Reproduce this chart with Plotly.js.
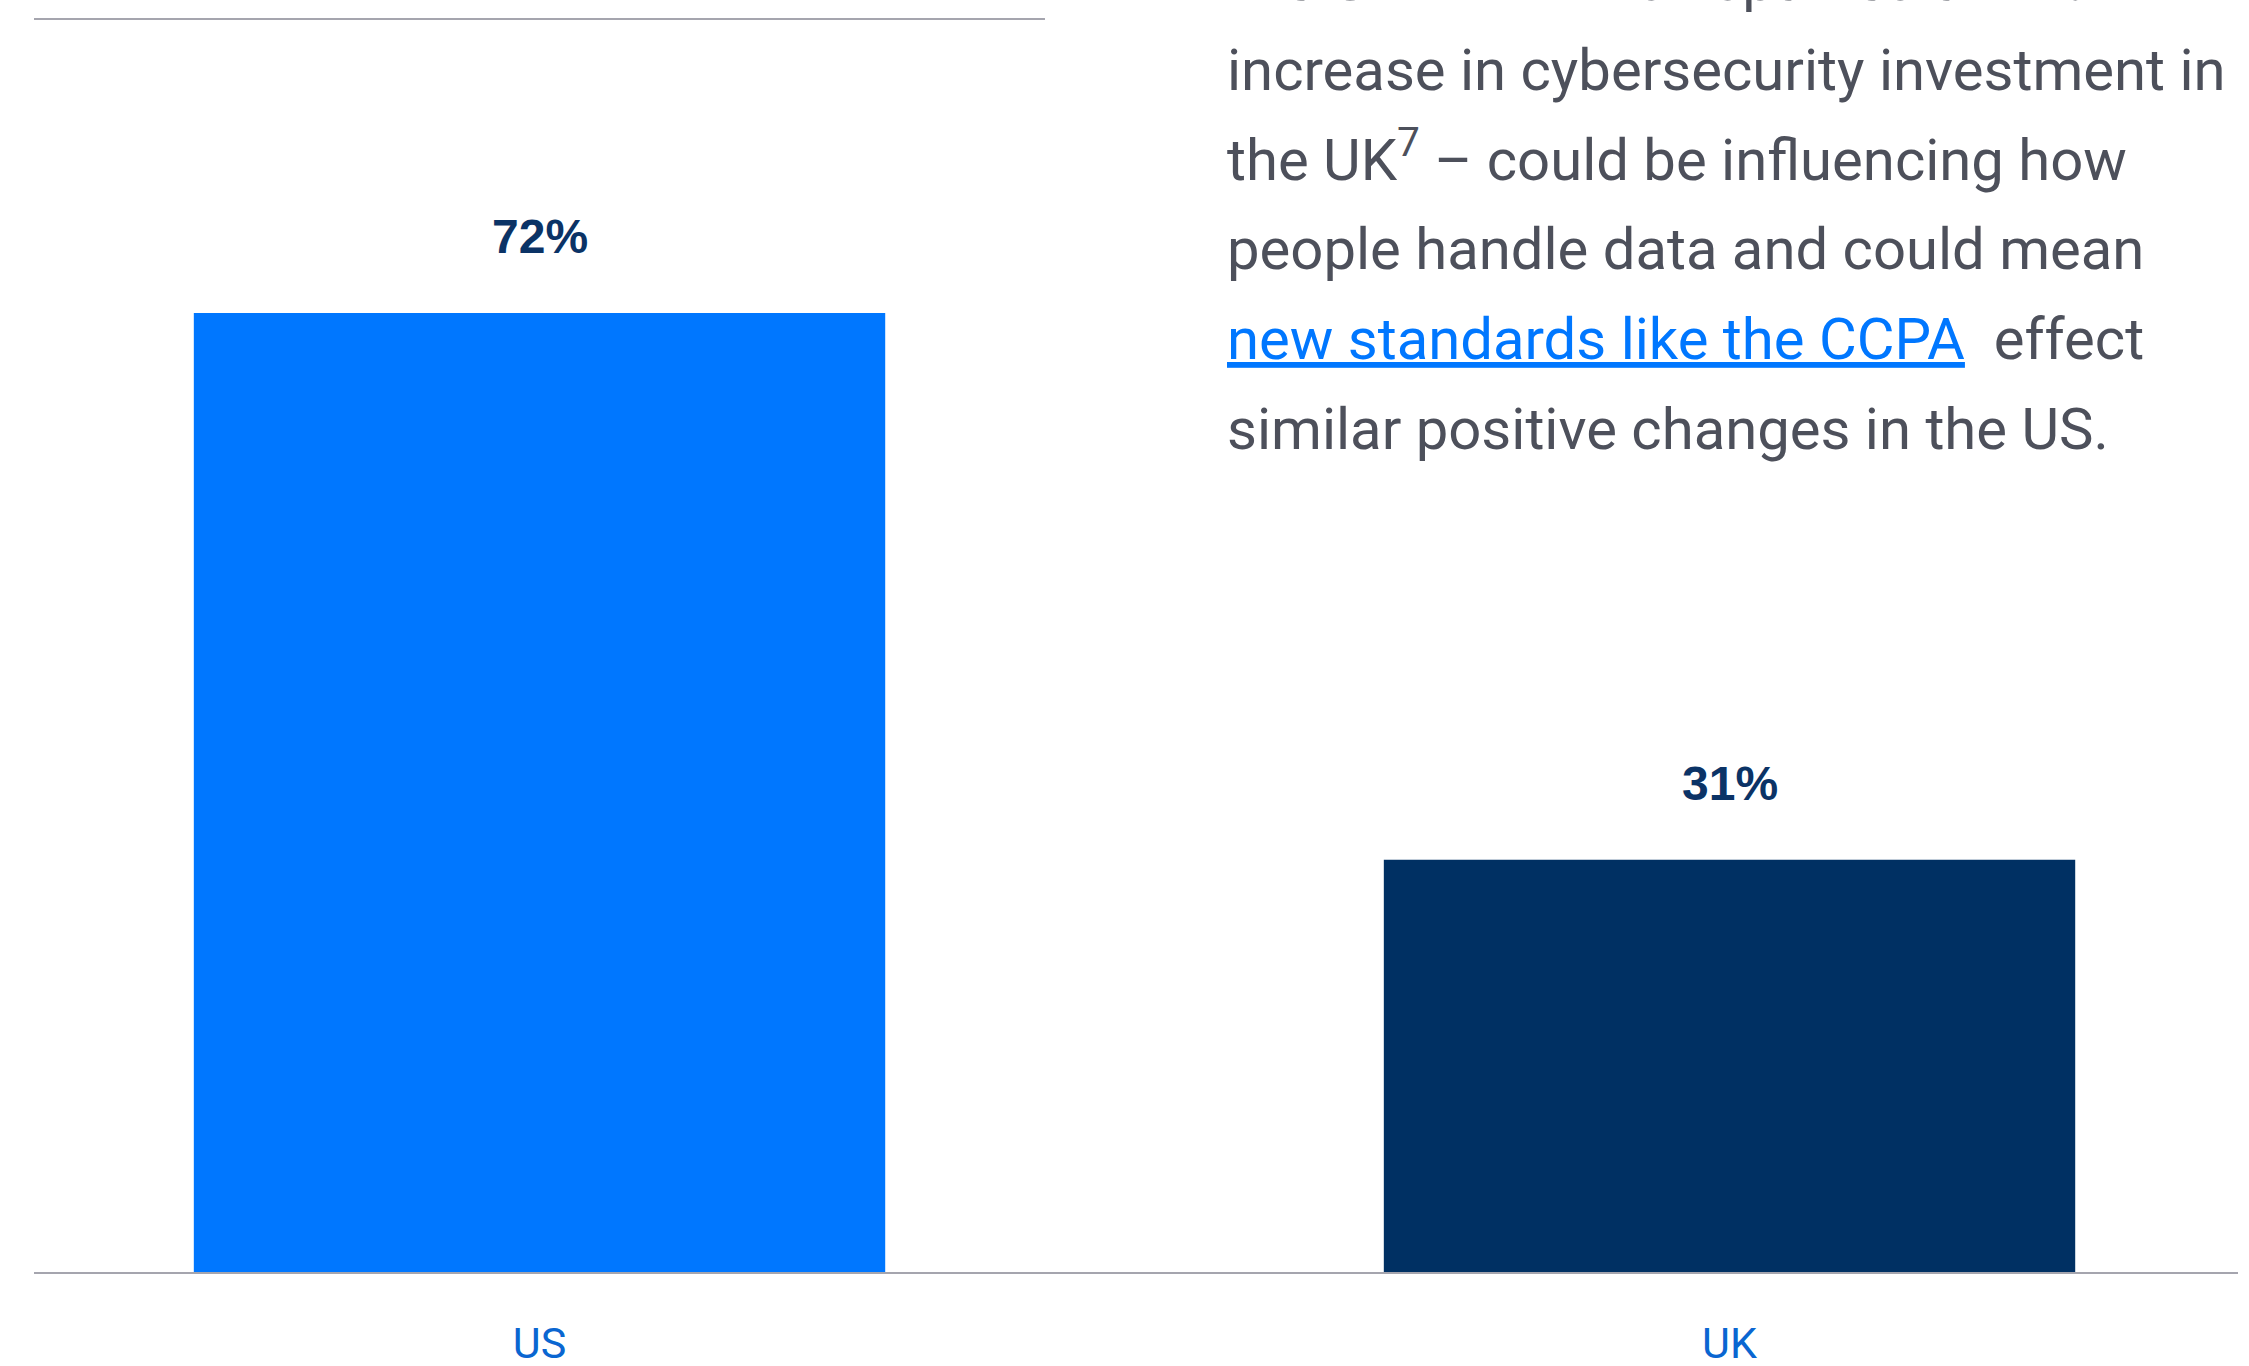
<!DOCTYPE html>
<html>
<head>
<meta charset="utf-8">
<script src="https://cdn.plot.ly/plotly-3.0.1.min.js"></script>
<style>
  html, body { margin: 0; padding: 0; background: #ffffff; }
  #chart { width: 2249px; height: 1366px; }
</style>
</head>
<body>
<div id="chart"></div>
<script>
// ---- data ----
const categories = ["US", "UK"];
const values = [72, 31];
const valueLabels = ["72%", "31%"];

// ---- paragraph text (right side) ----
const paragraphLines = [
  "like GDPR \u2013 which sparked a 44%",
  "increase in cybersecurity investment in",
  "the UK<sup>7</sup> \u2013 could be influencing how",
  "people handle data and could mean",
  "<span style=\"color:#0077ff\"><u>new standards like the CCPA</u></span>\u00a0 effect",
  "similar positive changes in the US."
];

// ---- styles ----
const barColors = ["#0077ff", "#003063"];
const labelColor = "#0b3366";
const tickColor = "#0a66d1";
const textColor = "#4d505b";
const ruleColor = "#a5a5ae";

const firstBaseline = 1;      // px from page top
const lineSpacing = 89.8;     // px

const annotations = [];
categories.forEach((c, i) => {
  annotations.push({
    x: c, y: values[i], xref: "x", yref: "y",
    text: valueLabels[i], showarrow: false,
    xanchor: "center", yanchor: "bottom", yshift: 48,
    font: { family: "Liberation Sans, Arial, sans-serif", size: 48, color: labelColor, weight: 700 }
  });
});
paragraphLines.forEach((t, i) => {
  const baseline = firstBaseline + lineSpacing * i;
  annotations.push({
    x: 0, y: 1, xref: "paper", yref: "paper",
    text: t, showarrow: false, align: "left",
    xanchor: "left", yanchor: "bottom",
    xshift: 1191, yshift: 4 - baseline,
    font: { family: "Roboto, sans-serif", size: 58, color: textColor }
  });
});

const trace = {
  type: "bar",
  x: categories,
  y: values,
  width: 0.581,
  marker: { color: barColors, line: { width: 0 } },
  hoverinfo: "skip"
};

const layout = {
  width: 2249, height: 1366,
  margin: { l: 34, r: 11, t: 19, b: 93, pad: 0 },
  paper_bgcolor: "#ffffff", plot_bgcolor: "#ffffff",
  showlegend: false,
  xaxis: {
    type: "category", categoryarray: categories,
    range: [-0.4248, 1.4273],
    showgrid: false, zeroline: false, showline: false,
    ticks: "", ticklabelstandoff: 41, automargin: false,
    tickfont: { family: "Roboto, sans-serif", size: 43, color: tickColor },
    fixedrange: true
  },
  yaxis: {
    range: [0, 94.05], visible: false, fixedrange: true, automargin: false
  },
  shapes: [
    { type: "line", xref: "paper", yref: "paper", x0: 0, x1: 0.4587, y0: 1, y1: 1,
      line: { color: ruleColor, width: 2 } },
    { type: "line", xref: "paper", yref: "paper", x0: 0, x1: 1, y0: 0, y1: 0,
      line: { color: ruleColor, width: 2 } }
  ],
  annotations: annotations
};

Plotly.newPlot("chart", [trace], layout, { displayModeBar: false, staticPlot: true });
</script>
</body>
</html>
